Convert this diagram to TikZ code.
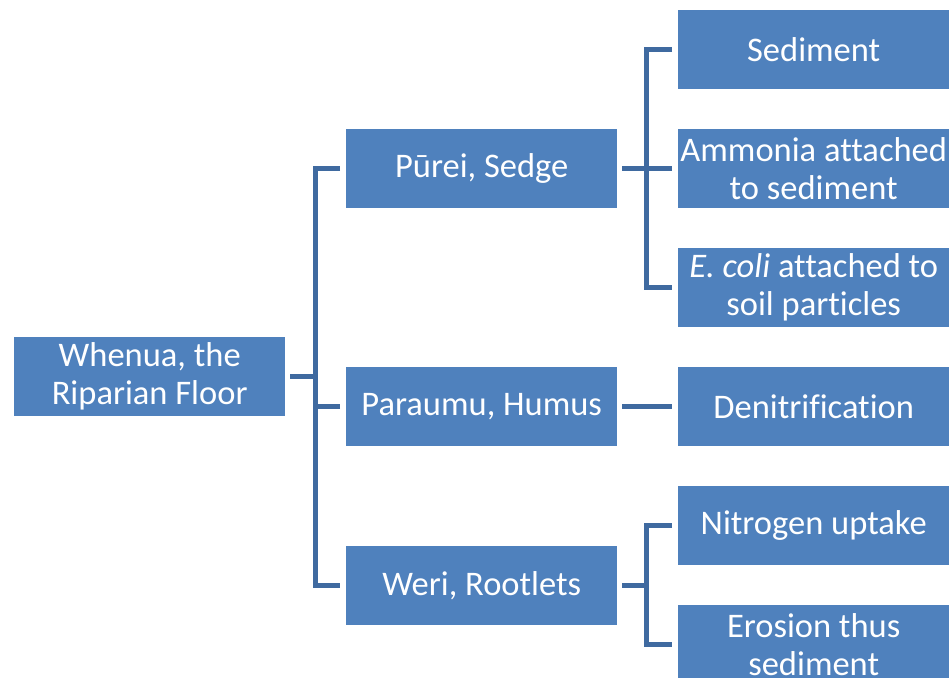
\documentclass[tikz,border=0pt]{standalone}
\usepackage{fontspec}
\setmainfont{Carlito}[Ligatures=NoCommon]
\usetikzlibrary{calc}
\definecolor{boxblue}{RGB}{79,129,189}
\definecolor{linkblue}{RGB}{63,106,160}
\begin{document}
\begin{tikzpicture}[x=1pt,y=-1pt,
  box/.style={fill=boxblue, minimum width=271pt, minimum height=79pt, inner sep=0pt,
    text=white, align=center, font=\fontsize{34.5}{38}\selectfont, anchor=north west},
  link/.style={draw=linkblue, line width=5pt, line join=miter}]
\useasboundingbox (0,0) rectangle (952,677);
\clip (0,0) rectangle (952,677);
\node[box] (root) at (14,337) {Whenua, the\\Riparian Floor};
\node[box] (purei) at (346,129) {Pūrei, Sedge};
\node[box] (paraumu) at (346,367) {Paraumu, Humus};
\node[box] (weri) at (346,546) {Weri, Rootlets};
\node[box] (sed) at (678,10) {Sediment};
\node[box] (amm) at (678,129) {Ammonia attached\\to sediment};
\node[box] (eco) at (678,248) {\textit{E. coli} attached to\\soil particles};
\node[box] (den) at (678,367) {Denitrification};
\node[box] (nit) at (678,486) {Nitrogen uptake};
\node[box] (ero) at (678,605) {Erosion thus\\sediment};
% level 1 connectors
\coordinate (j1) at ($(root.east)+(30,0)$);
\draw[link] ($(root.east)+(5,0)$) -- (j1);
\draw[link] ($(purei.west)+(-6,0)$) -- (purei.west -| j1) -- (weri.west -| j1) -- ($(weri.west)+(-6,0)$);
\draw[link] ($(paraumu.west)+(-6,0)$) -- (paraumu.west -| j1);
% level 2 connectors: Purei
\coordinate (j2) at ($(purei.east)+(29.5,0)$);
\draw[link] ($(purei.east)+(5,0)$) -- (j2);
\draw[link] ($(sed.west)+(-6,0)$) -- (sed.west -| j2) -- (eco.west -| j2) -- ($(eco.west)+(-6,0)$);
\draw[link] ($(amm.west)+(-6,0)$) -- (amm.west -| j2);
% Paraumu
\draw[link] ($(paraumu.east)+(5,0)$) -- ($(den.west)+(-6,0)$);
% Weri
\coordinate (j3) at ($(weri.east)+(29.5,0)$);
\draw[link] ($(weri.east)+(5,0)$) -- (j3);
\draw[link] ($(nit.west)+(-6,0)$) -- (nit.west -| j3) -- (ero.west -| j3) -- ($(ero.west)+(-6,0)$);
\end{tikzpicture}
\end{document}
